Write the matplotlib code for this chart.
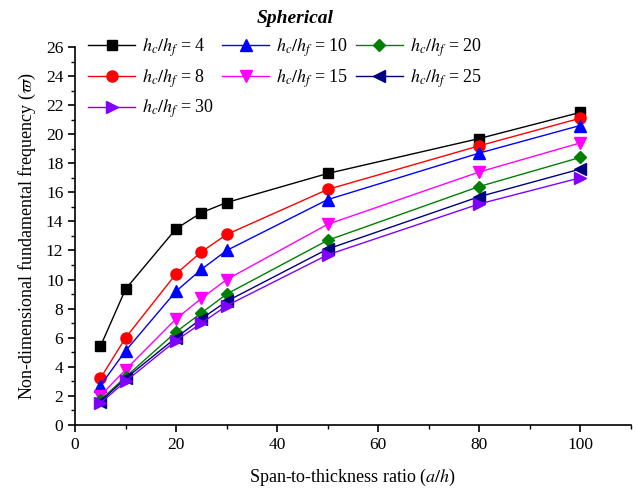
import numpy as np
import matplotlib.pyplot as plt
from matplotlib.ticker import MultipleLocator

ratio = [5, 10, 20, 25, 30, 50, 80, 100]
labels = ["4", "8", "10", "15", "20", "25", "30"]
freq = {
    "4": [5.4, 9.35, 13.5, 14.6, 15.3, 17.3, 19.7, 21.5],
    "8": [3.2, 6.0, 10.4, 11.9, 13.1, 16.2, 19.2, 21.1],
    "10": [2.7, 5.1, 9.2, 10.7, 12.0, 15.5, 18.7, 20.6],
    "15": [2.0, 3.8, 7.3, 8.7, 10.0, 13.8, 17.4, 19.4],
    "20": [1.7, 3.3, 6.4, 7.7, 9.0, 12.7, 16.4, 18.4],
    "25": [1.6, 3.2, 6.0, 7.3, 8.5, 12.1, 15.7, 17.6],
    "30": [1.5, 3.0, 5.8, 7.0, 8.2, 11.7, 15.2, 17.0],
}
colors = {"4": "black", "8": "red", "10": "blue", "15": "#ff00ff",
          "20": "#008000", "25": "#000080", "30": "#8000ff"}
markers = {"4": "s", "8": "o", "10": "^", "15": "v", "20": "D", "25": "<", "30": ">"}
msizes = {"4": 7, "8": 8, "10": 8, "15": 8, "20": 6.5, "25": 8, "30": 8}

plt.rcParams.update({"font.family": "Liberation Serif", "mathtext.fontset": "stix",
                     "font.size": 12})
fig = plt.figure(figsize=(6.37, 4.90), dpi=100)
ax = fig.add_axes([0.118, 0.133, 0.872, 0.771])

lines = {}
for k in labels:
    lines[k], = ax.plot(ratio, freq[k], color=colors[k], marker=markers[k],
                        markersize=msizes[k], linewidth=1.0,
                        label=r"$h_c/h_f$ = " + k)

ax.set_xlim(0, 110)
ax.set_ylim(0, 26)
ax.xaxis.set_major_locator(MultipleLocator(20))
ax.xaxis.set_minor_locator(MultipleLocator(10))
ax.yaxis.set_major_locator(MultipleLocator(2))
ax.yaxis.set_minor_locator(MultipleLocator(1))
ax.tick_params(which="major", direction="out", length=5, width=1.2, labelsize=12.5)
ax.tick_params(which="minor", direction="out", length=3, width=1.0)
ax.spines[["top", "right"]].set_visible(False)
ax.spines[["left", "bottom"]].set_linewidth(1.2)

ax.set_xlabel(r"Span-to-thickness ratio ($a/h$)", fontsize=13, labelpad=10)
ax.set_ylabel(r"Non-dimensional fundamental frequency ($\varpi$)", fontsize=13, labelpad=6)

order = ["4", "8", "30", "10", "15", "20", "25"]
ax.legend([lines[k] for k in order], [lines[k].get_label() for k in order],
          ncol=3, frameon=False, loc="upper left", bbox_to_anchor=(0.004, 1.057),
          fontsize=13, handlelength=2.6, columnspacing=0.42, handletextpad=0.4,
          labelspacing=0.45, borderaxespad=0.2)

fig.text(0.463, 0.962, "Spherical", fontsize=14, fontweight="bold", style="italic",
         ha="center", va="center")

fig.savefig("out.png", dpi=100)
